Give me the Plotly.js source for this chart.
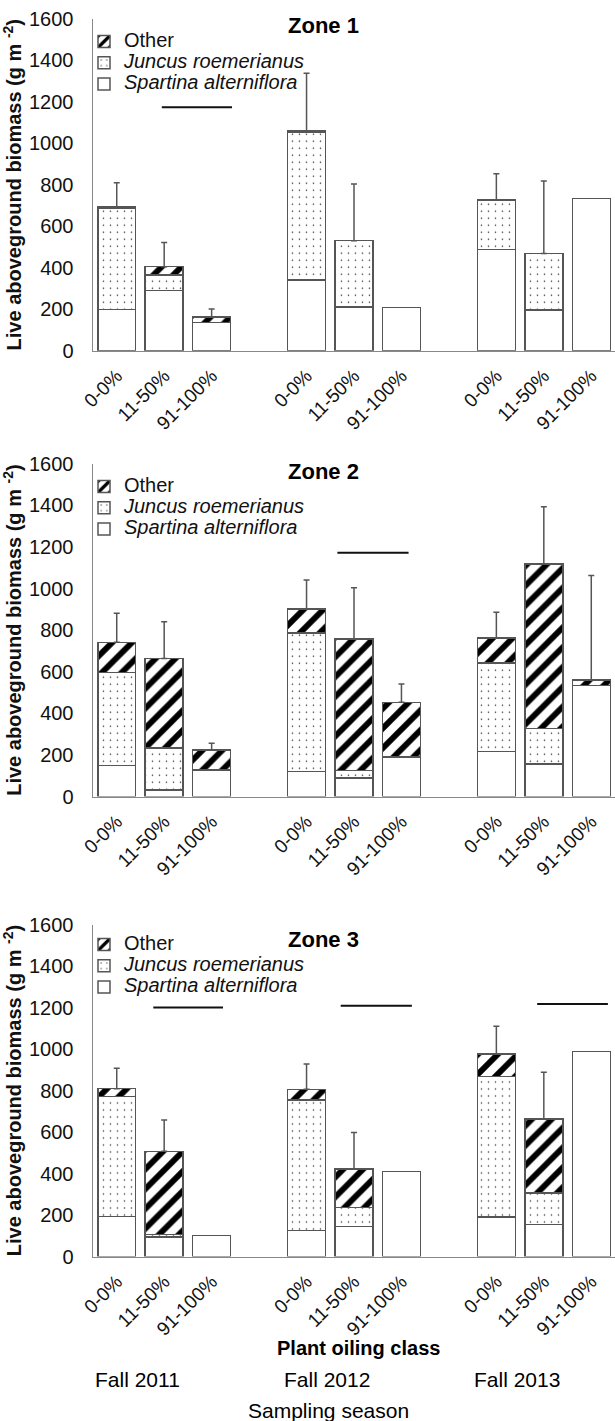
<!DOCTYPE html>
<html><head><meta charset="utf-8">
<script src="https://cdn.plot.ly/plotly-3.0.1.min.js"></script>
<style>html,body{margin:0;padding:0;background:#fff}#chart{width:615px;height:1421px}</style>
</head><body><div id="chart"></div>
<script>
// ---- data ----
const oilClasses = ['0-0%', '11-50%', '91-100%'];
const seasons = ['Fall 2011', 'Fall 2012', 'Fall 2013'];
const zoneNames = ['Zone 1', 'Zone 2', 'Zone 3'];
const seriesNames = ['Spartina alterniflora', 'Juncus roemerianus', 'Other'];
const seriesItalic = [true, true, false];

// order within each zone: 2011 (0-0, 11-50, 91-100), 2012 (...), 2013 (...)
const z1Spartina = [198, 289, 137, 341, 211, 207, 487, 195, 734];
const z1Juncus   = [490, 76, 0, 714, 319, 0, 239, 274, 0];
const z1Other    = [5, 40, 25, 4, 0, 0, 0, 0, 0];
const z1Error    = [117, 117, 39, 278, 273, null, 127, 349, null];

const z2Spartina = [150, 31, 127, 121, 90, 190, 217, 156, 533];
const z2Juncus   = [445, 201, 0, 664, 34, 0, 426, 171, 0];
const z2Other    = [146, 432, 97, 116, 633, 263, 118, 790, 26];
const z2Error    = [140, 176, 32, 140, 247, 88, 125, 276, 503];

const z3Spartina = [192, 93, 102, 126, 145, 409, 191, 155, 987];
const z3Juncus   = [578, 14, 0, 628, 90, 0, 676, 151, 0];
const z3Other    = [39, 400, 0, 52, 187, 0, 108, 357, 0];
const z3Error    = [98, 151, null, 122, 176, null, 135, 225, null];

// significance lines: zone index, from/to category slot, value
const sigZone = [1, 2, 3, 3, 3];
const sigFrom = [0.95, 4.65, 0.77, 4.72, 8.86];
const sigTo   = [2.43, 6.15, 2.24, 6.22, 10.35];
const sigVal  = [1173, 1172, 1200, 1208, 1217];

// ---- build ----
const FONT = 'Liberation Sans, Arial, Helvetica, sans-serif';
const zoneData = [
  [z1Spartina, z1Juncus, z1Other, z1Error],
  [z2Spartina, z2Juncus, z2Other, z2Error],
  [z3Spartina, z3Juncus, z3Other, z3Error]
];
const xPos = [];
const tickText = [];
seasons.forEach((s, i) => oilClasses.forEach((c, j) => { xPos.push(i * 4 + j); tickText.push(c); }));

const patterns = [
  {shape: '', bgcolor: '#fff'},
  {shape: '.', fgcolor: '#333', bgcolor: '#fff', size: 7, solidity: 0.04},
  {shape: '/', fgcolor: '#000', bgcolor: '#fff', size: 14, solidity: 0.42}
];

const H = 1421, L = 93, W = 615 - 93;
const plotPx = [[18.7, 350.7], [463.7, 796.5], [924.5, 1256.5]];
const titlePx = [26, 471, 940];
const legendTopPx = [26, 471, 929];

const traces = [];
const layout = {
  width: 615, height: 1421,
  margin: {l: L, r: 0, t: 0, b: 0},
  paper_bgcolor: '#fff', plot_bgcolor: '#fff',
  barmode: 'stack', bargap: 0.2,
  font: {family: FONT, color: '#111', size: 18},
  showlegend: true,
  annotations: [], shapes: []
};

zoneData.forEach((zd, k) => {
  const sfx = k === 0 ? '' : String(k + 1);
  const xa = 'x' + sfx, ya = 'y' + sfx, lg = 'legend' + sfx;
  for (let s = 0; s < 3; s++) {
    const st = 'font-size:20px' + (seriesItalic[s] ? ';font-style:italic' : '');
    traces.push({
      type: 'bar', x: xPos, y: zd[s].map(v => (v === 0 ? null : v)),
      name: '<span style="' + st + '">' + seriesNames[s] + '</span>',
      xaxis: xa, yaxis: ya, legend: lg, width: 0.8,
      marker: {color: '#fff', pattern: patterns[s], line: {color: '#555', width: 1.5}},
      hoverinfo: 'skip'
    });
  }
  const idx = xPos.map((_, i) => i).filter(i => zd[3][i] !== null);
  traces.push({
    type: 'scatter', mode: 'markers',
    x: idx.map(i => xPos[i]),
    y: idx.map(i => zd[0][i] + zd[1][i] + zd[2][i]),
    xaxis: xa, yaxis: ya, showlegend: false, hoverinfo: 'skip',
    marker: {size: 1, opacity: 0},
    error_y: {type: 'data', symmetric: false, array: idx.map(i => zd[3][i]), arrayminus: idx.map(() => 0),
              color: '#555', thickness: 1.5, width: 3}
  });
  const dom = [1 - plotPx[k][1] / H, 1 - plotPx[k][0] / H];
  layout['xaxis' + sfx] = {
    anchor: ya, domain: [0, 1], range: [-0.5, 10.5],
    tickmode: 'array', tickvals: xPos, ticktext: tickText, tickangle: -45,
    tickfont: {size: 19, color: '#111'}, ticks: '', ticklabelstandoff: 5,
    showline: true, linecolor: '#888', linewidth: 1.5, showgrid: false, zeroline: false
  };
  layout['yaxis' + sfx] = {
    anchor: xa, domain: dom, range: [0, 1600], tick0: 0, dtick: 200,
    tickfont: {size: 20, color: '#111'}, ticks: '', ticklabelstandoff: 14,
    showline: true, linecolor: '#888', linewidth: 1.5, showgrid: false, zeroline: false,
    title: {text: '<b>Live aboveground biomass (g m <sup>-2</sup>)</b>', font: {size: 20, color: '#111'}, standoff: 2}
  };
  layout[lg] = {
    x: -9 / W, xanchor: 'left', y: 1 - legendTopPx[k] / H, yanchor: 'top',
    traceorder: 'reversed', bgcolor: 'rgba(0,0,0,0)', borderwidth: 0,
    font: {size: 14, color: '#111'}
  };
  layout.annotations.push({
    text: '<b>' + zoneNames[k] + '</b>', xref: 'paper', yref: 'paper',
    x: (323 - L) / W, y: 1 - titlePx[k] / H, xanchor: 'center', yanchor: 'middle',
    showarrow: false, font: {size: 22, color: '#000'}
  });
});

sigZone.forEach((z, i) => {
  const sfx = z === 1 ? '' : String(z);
  layout.shapes.push({type: 'line', xref: 'x' + sfx, yref: 'y' + sfx,
    x0: sigFrom[i], x1: sigTo[i], y0: sigVal[i], y1: sigVal[i], line: {color: '#111', width: 2}});
});

// bottom labels
layout.annotations.push({text: '<b>Plant oiling class</b>', xref: 'paper', yref: 'paper',
  x: (358 - L) / W, y: 1 - 1348 / H, xanchor: 'center', yanchor: 'middle', showarrow: false,
  font: {size: 20, color: '#000'}});
seasons.forEach((s, i) => {
  layout.annotations.push({text: s, xref: 'x3', yref: 'paper', x: i * 4 + 0.43, y: 1 - 1379 / H,
    xanchor: 'center', yanchor: 'middle', showarrow: false, font: {size: 21, color: '#000'}});
});
layout.annotations.push({text: 'Sampling season', xref: 'paper', yref: 'paper',
  x: (328.5 - L) / W, y: 1 - 1410 / H, xanchor: 'center', yanchor: 'middle', showarrow: false,
  font: {size: 21, color: '#000'}});

Plotly.newPlot('chart', traces, layout, {staticPlot: true, displayModeBar: false});
</script>
</body></html>
